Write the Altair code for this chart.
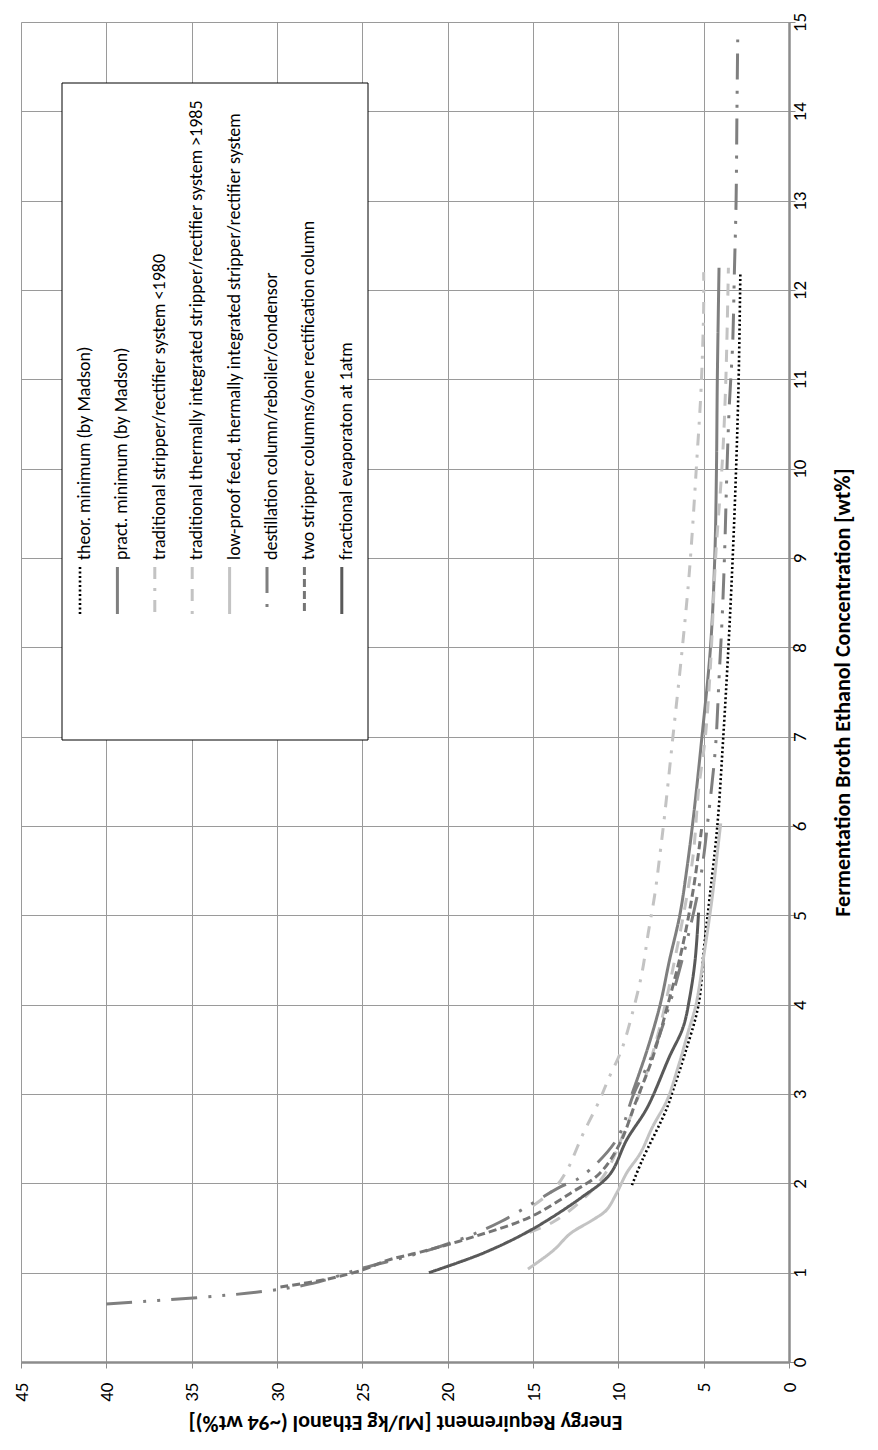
import altair as alt
import pandas as pd

FONT = "Carlito, Calibri, 'Liberation Sans Narrow', 'Open Sans', sans-serif"

series_names = [
    "theor. minimum (by Madson)",
    "pract. minimum (by Madson)",
    "traditional stripper/rectifier system <1980",
    "traditional thermally integrated stripper/rectifier system >1985",
    "low-proof feed, thermally integrated stripper/rectifier system",
    "destillation column/reboiler/condensor",
    "two stripper columns/one rectification column",
    "fractional evaporaton at 1atm",
]

# concentration [wt%] and energy [MJ/kg]
theor_c = [1.98, 2.26, 2.82, 3.04, 3.45, 4.0, 4.6, 5.2, 6.0, 7.0, 8.0, 9.0, 10.0, 11.0, 12.2]
theor_e = [9.2, 8.6, 7.2, 6.8, 6.1, 5.3, 5.0, 4.65, 4.2, 3.85, 3.55, 3.3, 3.1, 2.95, 2.85]

pract_c = [3.0, 3.5, 4.0, 4.5, 5.0, 5.5, 6.1, 7.0, 8.0, 9.0, 10.0, 11.0, 12.25]
pract_e = [9.2, 8.3, 7.55, 7.0, 6.4, 6.0, 5.6, 5.1, 4.6, 4.35, 4.25, 4.2, 4.1]

trad80_c = [1.75, 1.93, 2.15, 2.54, 2.93, 3.16, 3.5, 3.96, 4.37, 4.8, 5.25, 5.7, 6.1, 7.0, 7.9, 8.7, 9.2, 10.1, 10.9, 11.8, 12.2]
trad80_e = [15.0, 13.8, 13.0, 12.1, 11.1, 10.6, 9.8, 9.1, 8.6, 8.25, 7.85, 7.55, 7.3, 6.8, 6.3, 5.9, 5.7, 5.4, 5.15, 5.0, 5.0]

trad85_c = [1.45, 1.57, 1.8, 2.1, 2.6, 3.2, 3.8, 4.5, 5.2, 5.7, 6.4, 7.0, 7.8, 9.0, 10.1, 11.0, 12.25]
trad85_e = [15.2, 13.8, 12.2, 10.8, 9.6, 8.4, 7.5, 6.7, 6.0, 5.6, 5.3, 4.9, 4.6, 4.3, 3.9, 3.7, 3.55]

low_c = [1.04, 1.25, 1.44, 1.59, 1.7, 1.89, 2.12, 2.34, 2.63, 2.93, 3.3, 3.7, 4.0, 4.6, 5.2, 5.7, 6.03]
low_e = [15.3, 13.8, 12.8, 11.5, 10.7, 10.1, 9.5, 8.7, 8.0, 7.15, 6.5, 5.9, 5.45, 4.95, 4.5, 4.2, 4.0]

dest_c = [0.65, 0.72, 0.79, 0.88, 1.05, 1.2, 1.37, 1.57, 1.96, 2.07, 2.49, 3.0, 3.4, 4.0, 4.7, 5.4, 6.15, 6.9, 7.65, 8.4, 9.2, 9.9, 10.7, 11.4, 12.2, 13.0, 14.0, 14.9]
dest_e = [40.0, 34.7, 30.8, 27.9, 25.0, 22.0, 19.3, 16.9, 13.4, 12.2, 10.1, 9.1, 8.1, 7.0, 6.0, 5.2, 4.7, 4.3, 4.1, 3.9, 3.75, 3.65, 3.5, 3.3, 3.2, 3.1, 3.05, 3.0]

two_c = [0.84, 0.93, 1.03, 1.14, 1.23, 1.4, 1.62, 1.89, 2.11, 2.45, 2.9, 3.4, 4.0, 4.6, 5.3, 6.0]
two_e = [29.8, 27.0, 25.0, 23.5, 21.6, 18.5, 15.2, 12.8, 11.1, 9.9, 9.0, 8.0, 7.1, 6.3, 5.6, 5.1]

frac_c = [1.0, 1.22, 1.48, 1.85, 2.1, 2.49, 2.85, 3.42, 3.75, 4.1, 4.5, 5.03]
frac_e = [21.1, 17.9, 15.1, 12.1, 10.5, 9.5, 8.3, 7.0, 6.2, 5.8, 5.5, 5.3]

all_c = [theor_c, pract_c, trad80_c, trad85_c, low_c, dest_c, two_c, frac_c]
all_e = [theor_e, pract_e, trad80_e, trad85_e, low_e, dest_e, two_e, frac_e]

energy_ticks = [0, 5, 10, 15, 20, 25, 30, 35, 40, 45]
conc_ticks = list(range(0, 16))

styles = [
    dict(color="#000000", strokeDash=[2, 2.5], strokeWidth=2.6),
    dict(color="#7f7f7f", strokeDash=[1, 0], strokeWidth=3),
    dict(color="#c3c3c3", strokeDash=[12, 9, 3, 9], strokeWidth=3),
    dict(color="#c3c3c3", strokeDash=[12, 10], strokeWidth=3),
    dict(color="#c3c3c3", strokeDash=[1, 0], strokeWidth=3),
    dict(color="#7f7f7f", strokeDash=[26, 11, 3, 11, 3, 11], strokeWidth=3),
    dict(color="#757575", strokeDash=[8, 4], strokeWidth=3),
    dict(color="#595959", strokeDash=[1, 0], strokeWidth=3),
]

W, H = 768, 1340

x_enc = alt.X(
    "E:Q",
    scale=alt.Scale(domain=[0, 45], reverse=True, nice=False, zero=False),
    axis=alt.Axis(
        orient="bottom", values=energy_ticks, format="d", labelAngle=270, labelAlign="right",
        labelBaseline="middle", labelPadding=14, tickSize=6, labelFontSize=19,
        labelFont=FONT, labelColor="#000000",
        title="Energy Requirement [MJ/kg Ethanol (~94 wt%)]", titleAngle=180,
        titleBaseline="bottom", titleFont=FONT, titleFontSize=22, titleFontWeight="bold",
        titlePadding=9, titleColor="#000000",
        domainColor="#8c8c8c", domainWidth=2.5, tickColor="#8c8c8c", tickWidth=1,
        gridColor="#9a9a9a", gridWidth=1,
    ),
)
y_enc = alt.Y(
    "C:Q",
    scale=alt.Scale(domain=[0, 15], nice=False, zero=False),
    axis=alt.Axis(
        orient="right", values=conc_ticks, format="d", labelAngle=270, labelAlign="center",
        labelBaseline="top", labelPadding=-5, tickSize=6, labelFontSize=19,
        labelFont=FONT, labelColor="#000000",
        title="Fermentation Broth Ethanol Concentration [wt%]", titleAngle=270,
        titleBaseline="top", titleFont=FONT, titleFontSize=22, titleFontWeight="bold",
        titlePadding=23, titleColor="#000000",
        domainColor="#8c8c8c", domainWidth=2.5, tickColor="#8c8c8c", tickWidth=1,
        gridColor="#9a9a9a", gridWidth=1,
    ),
)

layers = []
for i, (name, cs, es) in enumerate(zip(series_names, all_c, all_e)):
    d = pd.DataFrame({"C": cs, "E": es, "k": list(range(len(cs))), "series": name})
    st = styles[i]
    enc = dict(order="k:Q")
    if i == 0:
        enc.update(x=x_enc, y=y_enc)
    else:
        enc.update(x="E:Q", y="C:Q")
    layers.append(
        alt.Chart(d).mark_line(
            interpolate="catmull-rom", strokeCap="butt", **st
        ).encode(**enc)
    )

# legend box
layers.append(
    alt.Chart(pd.DataFrame({"a": [0]})).mark_rect(
        fill="white", stroke="#000000", strokeWidth=1
    ).encode(x=alt.value(41), x2=alt.value(347), y=alt.value(61), y2=alt.value(718))
)

LEG_X0, LEG_DX = 64, 37.4
for i, name in enumerate(series_names):
    px = LEG_X0 + i * LEG_DX
    st = styles[i]
    layers.append(
        alt.Chart(pd.DataFrame({"label": [name]})).mark_text(
            angle=270, align="left", baseline="middle", font=FONT, fontSize=18,
            color="#000000"
        ).encode(text="label:N", x=alt.value(px), y=alt.value(538))
    )
    layers.append(
        alt.Chart(pd.DataFrame({"label": [name]})).mark_rule(
            strokeCap="butt", **st
        ).encode(x=alt.value(px - 5), y=alt.value(545), y2=alt.value(592))
    )

chart = alt.layer(*layers).properties(
    width=W, height=H,
    padding={"left": 13, "top": 14, "right": 81, "bottom": 80},
    autosize=alt.AutoSizeParams(type="none"),
).configure_view(stroke=None).configure(background="white")

chart.save("out.html", embed_options={"renderer": "svg", "actions": False})
